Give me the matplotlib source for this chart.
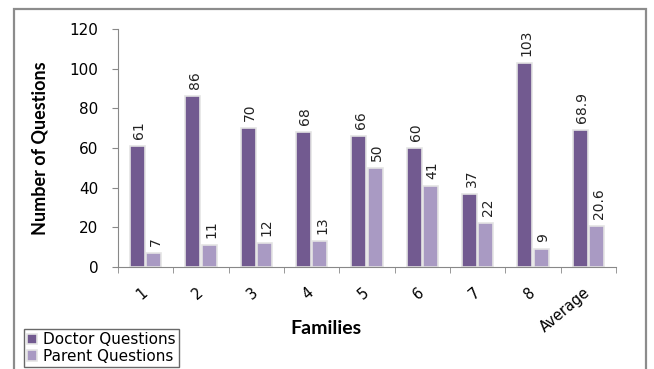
import numpy as np
import matplotlib.pyplot as plt
from matplotlib.patches import Rectangle

families = ['1', '2', '3', '4', '5', '6', '7', '8', 'Average']
doctor = [61, 86, 70, 68, 66, 60, 37, 103, 68.9]
parent = [7, 11, 12, 13, 50, 41, 22, 9, 20.6]
doctor_labels = ['61', '86', '70', '68', '66', '60', '37', '103', '68.9']
parent_labels = ['7', '11', '12', '13', '50', '41', '22', '9', '20.6']

doc_color = '#725a90'
par_color = '#a99ac3'

fig = plt.figure(figsize=(6.54, 3.69), dpi=100)
ax = fig.add_axes([118 / 654, 1 - 267 / 369, 498 / 654, 238 / 369])

x = np.arange(len(families))
w = 0.27
off = 0.15
b1 = ax.bar(x - off, doctor, w, color=doc_color, edgecolor='#e4e4e4', linewidth=1.2,
            label='Doctor Questions')
b2 = ax.bar(x + off, parent, w, color=par_color, edgecolor='#e4e4e4', linewidth=1.2,
            label='Parent Questions')

for bars, labels in ((b1, doctor_labels), (b2, parent_labels)):
    for rect, lab in zip(bars, labels):
        ax.annotate(lab, (rect.get_x() + rect.get_width() / 2, rect.get_height()),
                    xytext=(1.5, 5), textcoords='offset points', rotation=90,
                    ha='center', va='bottom', fontsize=10, color='#222222')

ax.set_xlim(-0.5, len(families) - 0.5)
ax.set_ylim(0, 120)
ax.set_yticks(range(0, 121, 20))
ax.tick_params(axis='y', labelsize=11, length=4, color='#888888', pad=10)

ax.set_xticks(x)
ax.set_xticklabels(families, rotation=40, ha='right', va='center',
                   rotation_mode='anchor', fontsize=10.5)
ax.tick_params(axis='x', length=0, pad=17)
ax.set_xticks(np.arange(-0.5, len(families)), minor=True)
ax.tick_params(axis='x', which='minor', length=4, color='#888888')

for s in ('top', 'right'):
    ax.spines[s].set_visible(False)
for s in ('left', 'bottom'):
    ax.spines[s].set_color('#888888')

ax.set_ylabel('Number of Questions', fontsize=13, fontweight='bold',
              family='Lato')
ax.yaxis.set_label_coords(-70 / 498, 0.5)
fig.text(326 / 654, 1 - 328 / 369, 'Families', fontsize=14, fontweight='bold',
         family='Lato', ha='center', va='center')

leg = fig.legend(loc='lower left', bbox_to_anchor=(24 / 654, 2 / 369),
                 fontsize=11, frameon=True, fancybox=False, borderpad=0.2,
                 handlelength=0.65, handleheight=0.65, handletextpad=0.4,
                 labelspacing=0.1, borderaxespad=0)
leg.get_frame().set_edgecolor('#444444')
leg.get_frame().set_linewidth(1)

# grey frame around the chart
fig.patches.append(Rectangle((14 / 654, -0.1), 632 / 654, 1.1 - 9 / 369,
                             transform=fig.transFigure, fill=False,
                             edgecolor='#8c8c8c', linewidth=1.6))

fig.savefig('out.png', dpi=100)
